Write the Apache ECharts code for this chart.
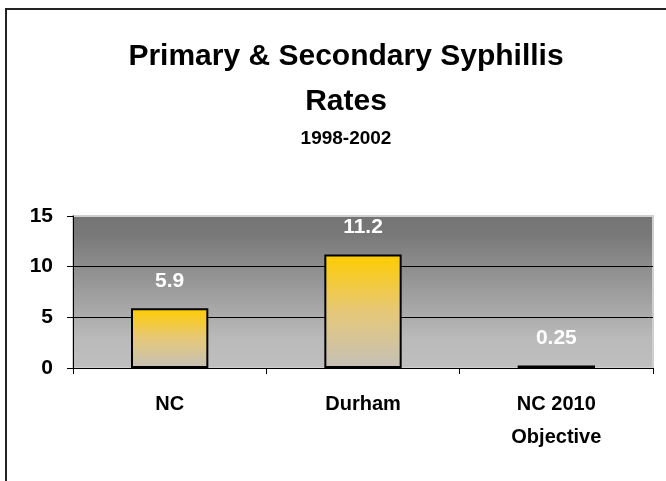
<!DOCTYPE html>
<html>
<head>
<meta charset="utf-8">
<script src="https://cdn.jsdelivr.net/npm/echarts@6/dist/echarts.min.js"></script>
<style>
  html, body { margin: 0; padding: 0; background: #fff; }
  #main { width: 666px; height: 481px; }
</style>
</head>
<body>
<div id="main"></div>
<script>
var categories = ['NC', 'Durham', 'NC 2010\nObjective'];
var rates = [5.9, 11.2, 0.25];
var yTicks = [0, 5, 10, 15];

var chart = echarts.init(document.getElementById('main'));

var fontFamily = '"Liberation Sans", Arial, sans-serif';

var option = {
    backgroundColor: '#fff',
    animation: false,
    title: [{
        text: 'Primary & Secondary Syphillis\nRates',
        left: 341,
        top: 29,
        textAlign: 'center',
        textStyle: {
            fontFamily: fontFamily,
            fontSize: 30,
            fontWeight: 'bold',
            color: '#000',
            lineHeight: 45
        }
    }, {
        text: '1998-2002',
        left: 341,
        top: 124,
        textAlign: 'center',
        textStyle: {
            fontFamily: fontFamily,
            fontSize: 19,
            fontWeight: 'bold',
            color: '#000'
        }
    }],
    // outer frame, only top and left edges visible
    graphic: [{
        type: 'polyline',
        shape: { points: [[6, 481], [6, 9], [666, 9]] },
        style: { stroke: '#222', lineWidth: 2, fill: null }
    }],
    grid: {
        left: 73,
        right: 13,
        top: 216,
        bottom: 113,
        show: true,
        borderColor: '#cfcfcf',
        borderWidth: 2,
        backgroundColor: new echarts.graphic.LinearGradient(0, 0, 0, 1, [
            { offset: 0, color: '#747474' },
            { offset: 0.12, color: '#787878' },
            { offset: 0.8, color: '#bababa' },
            { offset: 1, color: '#bfbfbf' }
        ])
    },
    xAxis: {
        type: 'category',
        data: categories,
        axisLine: { lineStyle: { color: '#000', width: 1 } },
        axisTick: { show: true, length: 6, lineStyle: { color: '#000' } },
        axisLabel: {
            margin: 20,
            fontFamily: fontFamily,
            fontSize: 20,
            fontWeight: 'bold',
            color: '#000',
            lineHeight: 33
        }
    },
    yAxis: {
        type: 'value',
        min: yTicks[0],
        max: yTicks[yTicks.length - 1],
        interval: 5,
        axisLine: { show: true, lineStyle: { color: '#000', width: 1 } },
        axisTick: { show: true, length: 6, lineStyle: { color: '#000' } },
        axisLabel: {
            margin: 20,
            fontFamily: fontFamily,
            fontSize: 21,
            fontWeight: 'bold',
            color: '#000'
        },
        splitLine: {
            show: true,
            lineStyle: { color: ['#000', '#000', '#000', '#cfcfcf'], width: 1 }
        }
    },
    series: [{
        type: 'bar',
        data: rates,
        barWidth: '40%',
        itemStyle: {
            color: new echarts.graphic.LinearGradient(0, 0, 0, 1, [
                { offset: 0, color: '#ffcc00' },
                { offset: 0.5, color: '#e6c877' },
                { offset: 1, color: '#c4c0b8' }
            ]),
            borderColor: '#000',
            borderWidth: 2
        },
        label: {
            show: true,
            position: 'top',
            distance: 17,
            fontFamily: fontFamily,
            fontSize: 21,
            fontWeight: 'bold',
            color: '#fff'
        }
    }]
};

chart.setOption(option);
</script>
</body>
</html>
